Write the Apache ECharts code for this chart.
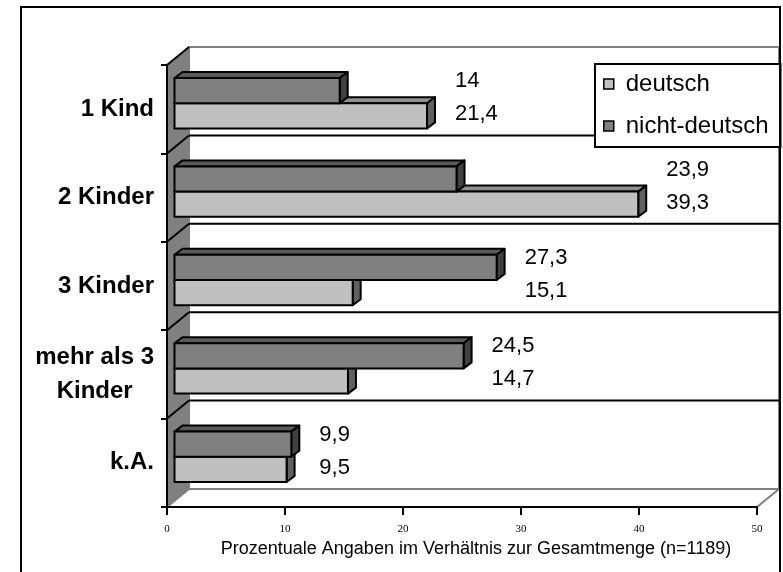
<!DOCTYPE html>
<html lang="de">
  <head>
    <meta charset="UTF-8" />
    <title>Kinderzahl</title>
    <script src="https://cdn.jsdelivr.net/npm/echarts@6/dist/echarts.min.js"></script>
  </head>
  <body style="margin: 0">
    <div id="main" style="width: 783px; height: 572px"></div>
    <script type="text/javascript">
      // chart data
      const categories = ["1 Kind", "2 Kinder", "3 Kinder", "mehr als 3\nKinder", "k.A."];
      const deutsch = [21.4, 39.3, 15.1, 14.7, 9.5];
      const nichtDeutsch = [14, 23.9, 27.3, 24.5, 9.9];
      const xTicks = [0, 10, 20, 30, 40, 50];

      const FONT = "Liberation Sans";
      // fake 3d offsets (px): whole depth, bar position in depth, bar thickness
      const WALL = [22, -18];
      const BAR_OFF = [7.5, -6];
      const BAR_DEPTH = [8, -6];

      let myChart = echarts.init(document.getElementById("main"));

      // walls + floor, drawn from the axis scales
      function renderFrame(params, api) {
        const band = api.size([0, 1])[1];
        const x0 = api.coord([xTicks[0], 0])[0];
        const x1 = api.coord([xTicks[xTicks.length - 1], 0])[0];
        const top = api.coord([0, 0])[1] - band / 2;
        const bot = top + band * categories.length;
        const dx = WALL[0], dy = WALL[1];
        const kids = [];
        kids.push({
          type: "rect",
          shape: { x: x0 + dx, y: top + dy, width: x1 - x0, height: bot - top },
          style: { fill: "#fff", stroke: "#808080", lineWidth: 2 },
        });
        kids.push({
          type: "polygon",
          shape: { points: [[x0, top], [x0 + dx, top + dy], [x0 + dx, bot + dy], [x0, bot]] },
          style: { fill: "#808080" },
        });
        kids.push({
          type: "polygon",
          shape: { points: [[x0, bot], [x0 + dx, bot + dy], [x1 + dx, bot + dy], [x1, bot]] },
          style: { fill: "#fff", stroke: "#808080", lineWidth: 2 },
        });
        for (let i = 0; i < categories.length; i++) {
          const y = top + band * i;
          kids.push({
            type: "line",
            shape: { x1: x0, y1: y, x2: x0 + dx, y2: y + dy },
            style: { stroke: "#000", lineWidth: 2 },
          });
          if (i > 0) {
            kids.push({
              type: "line",
              shape: { x1: x0 + dx, y1: y + dy, x2: x1 + dx, y2: y + dy },
              style: { stroke: "#000", lineWidth: 2 },
            });
          }
        }
        return { type: "group", children: kids };
      }

      function barRenderer(upper, front, topCol, side) {
        return function (params, api) {
          const v = api.value(0);
          const c = api.value(1);
          const band = api.size([0, 1])[1];
          const h = band * 0.285;
          const base = api.coord([0, c]);
          const end = api.coord([v, c]);
          const mid = base[1] + BAR_OFF[1];
          const y = upper ? mid - h : mid;
          const xa = base[0] + BAR_OFF[0];
          const xb = end[0] + BAR_OFF[0];
          const dx = BAR_DEPTH[0], dy = BAR_DEPTH[1];
          const line = { stroke: "#000", lineWidth: 2, lineJoin: "round" };
          const maxEnd = api.coord([Math.max(deutsch[c], nichtDeutsch[c]), c])[0] + BAR_OFF[0] + dx;
          return {
            type: "group",
            children: [
              {
                type: "polygon",
                shape: { points: [[xa, y], [xb, y], [xb + dx, y + dy], [xa + dx, y + dy]] },
                style: Object.assign({ fill: topCol }, line),
              },
              {
                type: "polygon",
                shape: { points: [[xb, y], [xb + dx, y + dy], [xb + dx, y + h + dy], [xb, y + h]] },
                style: Object.assign({ fill: side }, line),
              },
              {
                type: "rect",
                shape: { x: xa, y: y, width: xb - xa, height: h },
                style: Object.assign({ fill: front }, line),
              },
              {
                type: "text",
                x: maxEnd + 20,
                y: upper ? mid - 22 : mid + 11,
                style: {
                  text: String(v).replace(".", ","),
                  fill: "#000",
                  fontSize: 22,
                  fontFamily: FONT,
                  verticalAlign: "middle",
                  align: "left",
                },
              },
            ],
          };
        };
      }

      let options = {
        animation: false,
        backgroundColor: "#fff",
        graphic: [
          {
            type: "rect",
            shape: { x: 21, y: 7, width: 759, height: 600 },
            style: { fill: null, stroke: "#000", lineWidth: 2 },
            z: 100,
          },
        ],
        legend: {
          data: ["deutsch", "nicht-deutsch"],
          orient: "vertical",
          left: 595,
          top: 64,
          backgroundColor: "#fff",
          borderColor: "#000",
          borderWidth: 2,
          borderRadius: 0,
          padding: [8, 12, 9, 8],
          itemWidth: 10,
          itemHeight: 10,
          itemGap: 18,
          icon: "rect",
          selectedMode: false,
          itemStyle: { borderColor: "#000", borderWidth: 1.5 },
          textStyle: { fontFamily: FONT, fontSize: 24, color: "#000", padding: [0, 0, 0, 7] },
          z: 20,
        },
        grid: { left: 167, top: 65, width: 590, height: 442 },
        xAxis: {
          type: "value",
          min: xTicks[0],
          max: xTicks[xTicks.length - 1],
          interval: xTicks[1] - xTicks[0],
          z: 10,
          splitLine: { show: false },
          axisLine: { show: true, lineStyle: { color: "#000", width: 2 } },
          axisTick: { show: true, length: 8, lineStyle: { color: "#000", width: 2 } },
          axisLabel: { fontFamily: "Liberation Serif", fontSize: 11, color: "#000", margin: 17 },
          name: "Prozentuale Angaben im Verhältnis zur Gesamtmenge (n=1189)",
          nameLocation: "middle",
          nameGap: 31,
          nameTextStyle: { fontFamily: FONT, fontSize: 18, color: "#000", padding: [0, 0, 0, 28] },
        },
        yAxis: {
          type: "category",
          data: categories,
          inverse: true,
          z: 10,
          axisLine: { show: true, lineStyle: { color: "#000", width: 2 } },
          axisTick: { show: true, length: 6, interval: 0, lineStyle: { color: "#000", width: 2 } },
          axisLabel: {
            interval: 0,
            margin: 13,
            color: "#000",
            fontFamily: FONT,
            fontSize: 24,
            fontWeight: "bold",
            formatter: (v) =>
              v.indexOf("\n") < 0 ? v : v.split("\n").map((l) => "{c|" + l + "}").join("\n"),
            rich: {
              c: { fontFamily: FONT, fontSize: 24, fontWeight: "bold", color: "#000", align: "center", lineHeight: 34 },
            },
          },
        },
        series: [
          {
            name: "frame",
            type: "custom",
            silent: true,
            renderItem: renderFrame,
            data: [[0, 0]],
            z: 1,
          },
          {
            name: "deutsch",
            type: "custom",
            renderItem: barRenderer(false, "#C0C0C0", "#909090", "#606060"),
            itemStyle: { color: "#C0C0C0" },
            encode: { x: 0, y: 1 },
            data: deutsch.map((v, i) => [v, i]),
            z: 2,
          },
          {
            name: "nicht-deutsch",
            type: "custom",
            renderItem: barRenderer(true, "#808080", "#5a5a5a", "#404040"),
            itemStyle: { color: "#808080" },
            encode: { x: 0, y: 1 },
            data: nichtDeutsch.map((v, i) => [v, i]),
            z: 3,
          },
        ],
      };

      myChart.setOption(options);
    </script>
  </body>
</html>
